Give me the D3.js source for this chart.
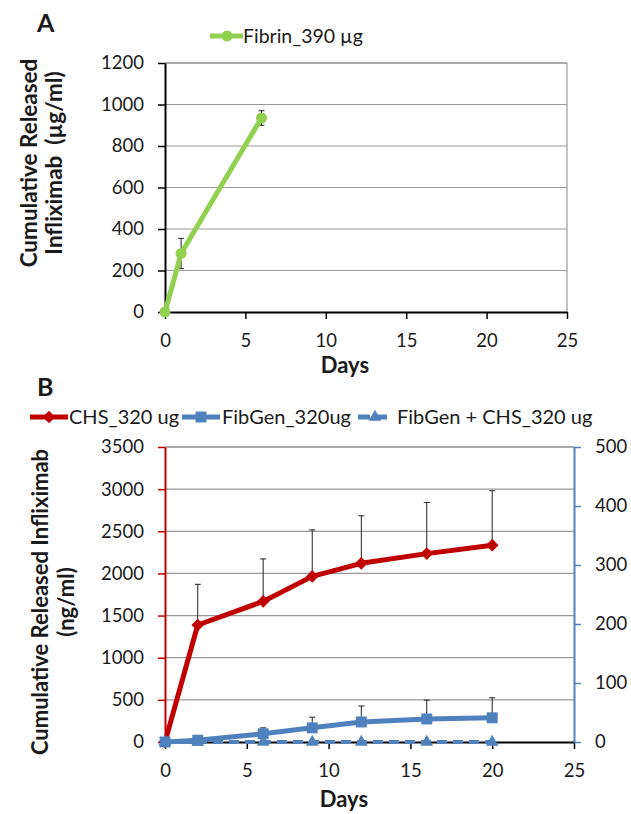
<!DOCTYPE html>
<html>
<head>
<meta charset="utf-8">
<script src="https://cdn.jsdelivr.net/npm/d3@7"></script>
<style>
  body { margin: 0; background: #fff; }
  svg text { font-family: Lato, "Open Sans", sans-serif; fill: #1a1a1a; }
</style>
</head>
<body>
<svg id="chart"></svg>
<script>
// Panel A - fibrin release (ug/ml)
const daysA = [0, 1, 6];
const fibrinVals = [0, 282, 935];
const fibrinErr = [0, 73, 35];

// Panel B - ng/ml, CHS on left axis, FibGen series on right axis
const daysB = [0, 2, 6, 9, 12, 16, 20];
const chsVals = [0, 1388, 1668, 1965, 2120, 2235, 2335];
const chsErr = [0, 483, 504, 552, 564, 607, 646];
const fibGenVals = [0, 3, 14, 24, 34, 39, 41];
const fibGenErr = [0, 2, 10, 18, 27, 32, 34];
const fibGenChsVals = [0, 0, 0, 0, 0, 0, 0];

const dayTicks = [0, 5, 10, 15, 20, 25];
const ticksA = [0, 200, 400, 600, 800, 1000, 1200];
const ticksBLeft = [0, 500, 1000, 1500, 2000, 2500, 3000, 3500];
const ticksBRight = [0, 100, 200, 300, 400, 500];

const GREEN = "#92D050", RED = "#C00000", BLUE = "#4F81BD";
const TICK_FS = 18.5;

const svg = d3.select("#chart")
  .attr("width", 631)
  .attr("height", 814);

svg.append("rect").attr("width", 631).attr("height", 814).attr("fill", "#fff");

function styleAxis(g, color, fs) {
  g.select(".domain").attr("stroke", color).attr("stroke-width", 2);
  g.selectAll(".tick line").attr("stroke", color).attr("stroke-width", 1.5);
  g.selectAll(".tick text")
    .attr("font-size", fs)
    .style("font-family", "Lato, 'Open Sans', sans-serif")
    .attr("fill", "#1a1a1a");
  g.attr("font-family", null);
}

function gridLines(g, y, ticks, x0, x1) {
  g.selectAll("line.grid")
    .data(ticks.filter(d => d > 0))
    .join("line")
    .attr("class", "grid")
    .attr("x1", x0).attr("x2", x1)
    .attr("y1", d => y(d)).attr("y2", d => y(d))
    .attr("stroke", (d, i, n) => i == n.length - 1 ? "#555" : "#999")
    .attr("stroke-width", 1.2);
}

function errBars(g, xs, vals, errs, x, y, both) {
  const data = xs.map((d, i) => ({x: d, v: vals[i], e: errs[i]})).filter(d => d.e > 0);
  const bar = g.append("g").attr("stroke", "#222").attr("stroke-width", 1);
  bar.selectAll("line.v").data(data).join("line")
    .attr("x1", d => x(d.x)).attr("x2", d => x(d.x))
    .attr("y1", d => y(both ? d.v - d.e : d.v)).attr("y2", d => y(d.v + d.e));
  bar.selectAll("line.top").data(data).join("line")
    .attr("x1", d => x(d.x) - 3).attr("x2", d => x(d.x) + 3)
    .attr("y1", d => y(d.v + d.e)).attr("y2", d => y(d.v + d.e));
  if (both) {
    bar.selectAll("line.bot").data(data).join("line")
      .attr("x1", d => x(d.x) - 3).attr("x2", d => x(d.x) + 3)
      .attr("y1", d => y(d.v - d.e)).attr("y2", d => y(d.v - d.e));
  }
}

const fmt = d3.format("d");

// ---------------- Panel A ----------------
const xA = d3.scaleLinear().domain([0, 25]).range([165, 567]);
const yA = d3.scaleLinear().domain([0, 1200]).range([312, 63]);

const chartA = svg.append("g");
gridLines(chartA, yA, ticksA, 165, 567);
chartA.append("line")
  .attr("x1", 567).attr("x2", 567).attr("y1", yA(1200)).attr("y2", yA(0))
  .attr("stroke", "#999").attr("stroke-width", 1.2);

chartA.append("g")
  .attr("transform", "translate(165,0)")
  .call(d3.axisLeft(yA).tickValues(ticksA).tickFormat(fmt).tickSize(7).tickPadding(14).tickSizeOuter(0))
  .call(g => styleAxis(g, "#000", TICK_FS));
chartA.append("g")
  .attr("transform", "translate(0,312)")
  .call(d3.axisBottom(xA).tickValues(dayTicks).tickFormat(fmt).tickSize(7).tickPadding(15).tickSizeOuter(0))
  .call(g => styleAxis(g, "#000", TICK_FS));

errBars(chartA, daysA, fibrinVals, fibrinErr, xA, yA, true);

const lineA = d3.line().x((d, i) => xA(daysA[i])).y(d => yA(d));
chartA.append("path")
  .datum(fibrinVals)
  .attr("d", lineA)
  .attr("fill", "none")
  .attr("stroke", GREEN)
  .attr("stroke-width", 5)
  .attr("stroke-linejoin", "round");
chartA.selectAll("circle.pt")
  .data(fibrinVals)
  .join("circle")
  .attr("class", "pt")
  .attr("cx", (d, i) => xA(daysA[i]))
  .attr("cy", d => yA(d))
  .attr("r", 5.5)
  .attr("fill", GREEN);

// legend A
svg.append("line").attr("x1", 210).attr("x2", 243).attr("y1", 36).attr("y2", 36)
  .attr("stroke", GREEN).attr("stroke-width", 5);
svg.append("circle").attr("cx", 227).attr("cy", 36).attr("r", 5.5).attr("fill", GREEN);
svg.append("text").attr("x", 243).attr("y", 43).attr("font-size", 19.5).text("Fibrin_390 µg");

svg.append("text").attr("x", 37).attr("y", 32).attr("font-size", 25).attr("font-weight", "bold").text("A");

// y title A
const titleA = svg.append("text")
  .attr("transform", "translate(0,163) rotate(-90)")
  .attr("text-anchor", "middle")
  .attr("font-size", 22.5)
  .attr("font-weight", "bold");
titleA.append("tspan").attr("x", 0).attr("y", 37).text("Cumulative Released");
titleA.append("tspan").attr("x", 0).attr("y", 62).attr("xml:space", "preserve").text("Infliximab  (µg/ml)");

svg.append("text").attr("x", 345).attr("y", 373).attr("text-anchor", "middle")
  .attr("font-size", 22).attr("font-weight", "bold").text("Days");

// ---------------- Panel B ----------------
const xB = d3.scaleLinear().domain([0, 25]).range([165, 574]);
const yBL = d3.scaleLinear().domain([0, 3500]).range([742, 447]);
const yBR = d3.scaleLinear().domain([0, 500]).range([742, 447]);

const chartB = svg.append("g");
gridLines(chartB, yBL, ticksBLeft, 165, 574);

chartB.append("g")
  .attr("transform", "translate(0,742)")
  .call(d3.axisBottom(xB).tickValues(dayTicks).tickFormat(fmt).tickSize(7).tickPadding(15).tickSizeOuter(0))
  .call(g => styleAxis(g, "#000", TICK_FS));
chartB.append("g")
  .attr("transform", "translate(165,0)")
  .call(d3.axisLeft(yBL).tickValues(ticksBLeft).tickFormat(fmt).tickSize(7).tickPadding(14).tickSizeOuter(0))
  .call(g => styleAxis(g, RED, TICK_FS));
chartB.append("g")
  .attr("transform", "translate(574,0)")
  .call(d3.axisRight(yBR).tickValues(ticksBRight).tickFormat(fmt).tickSize(7).tickPadding(14).tickSizeOuter(0))
  .call(g => styleAxis(g, BLUE, TICK_FS));

errBars(chartB, daysB, chsVals, chsErr, xB, yBL, false);
errBars(chartB, daysB, fibGenVals, fibGenErr, xB, yBR, false);

const series = [
  {vals: chsVals, y: yBL, color: RED, dash: null, sym: "diamond"},
  {vals: fibGenVals, y: yBR, color: BLUE, dash: null, sym: "square"},
  {vals: fibGenChsVals, y: yBR, color: BLUE, dash: "10,6", sym: "triangle"}
];

function marker(g, sym, color) {
  if (sym == "diamond") {
    g.append("path").attr("d", d3.symbol(d3.symbolSquare, 80)()).attr("transform", "rotate(45)").attr("fill", color);
  } else if (sym == "square") {
    g.append("path").attr("d", d3.symbol(d3.symbolSquare, 120)()).attr("fill", color);
  } else {
    g.append("path").attr("d", d3.symbol(d3.symbolTriangle, 70)()).attr("fill", color);
  }
}

series.forEach(s => {
  const line = d3.line().x((d, i) => xB(daysB[i])).y(d => s.y(d));
  chartB.append("path")
    .datum(s.vals)
    .attr("d", line)
    .attr("fill", "none")
    .attr("stroke", s.color)
    .attr("stroke-width", s.dash ? 4 : 5)
    .attr("stroke-dasharray", s.dash)
    .attr("stroke-linejoin", "round");
  chartB.append("g").selectAll("g")
    .data(s.vals)
    .join("g")
    .attr("transform", (d, i) => `translate(${xB(daysB[i])},${s.y(d)})`)
    .each(function() { marker(d3.select(this), s.sym, s.color); });
});

// legend B
const legendB = [
  {label: "CHS_320 ug", x0: 30, x1: 68, tx: 69, color: RED, dash: null, sym: "diamond"},
  {label: "FibGen_320ug", x0: 182, x1: 220, tx: 222, color: BLUE, dash: null, sym: "square"},
  {label: "FibGen + CHS_320 ug", x0: 358, x1: 392, tx: 397, color: BLUE, dash: "12,5", sym: "triangle"}
];
legendB.forEach(l => {
  svg.append("line").attr("x1", l.x0).attr("x2", l.x1).attr("y1", 417).attr("y2", 417)
    .attr("stroke", l.color).attr("stroke-width", 5).attr("stroke-dasharray", l.dash);
  const m = svg.append("g").attr("transform", `translate(${(l.x0 + l.x1) / 2},417)`);
  marker(m, l.sym, l.color);
  svg.append("text").attr("x", l.tx).attr("y", 424).attr("font-size", 20).text(l.label);
});

svg.append("text").attr("x", 37).attr("y", 396).attr("font-size", 25).attr("font-weight", "bold").text("B");

const titleB = svg.append("text")
  .attr("transform", "translate(0,602) rotate(-90)")
  .attr("text-anchor", "middle")
  .attr("font-size", 22)
  .attr("font-weight", "bold");
titleB.append("tspan").attr("x", 0).attr("y", 48).text("Cumulative Released Infliximab");
titleB.append("tspan").attr("x", 0).attr("y", 74).text("(ng/ml)");

svg.append("text").attr("x", 344).attr("y", 807).attr("text-anchor", "middle")
  .attr("font-size", 22).attr("font-weight", "bold").text("Days");
</script>
</body>
</html>
